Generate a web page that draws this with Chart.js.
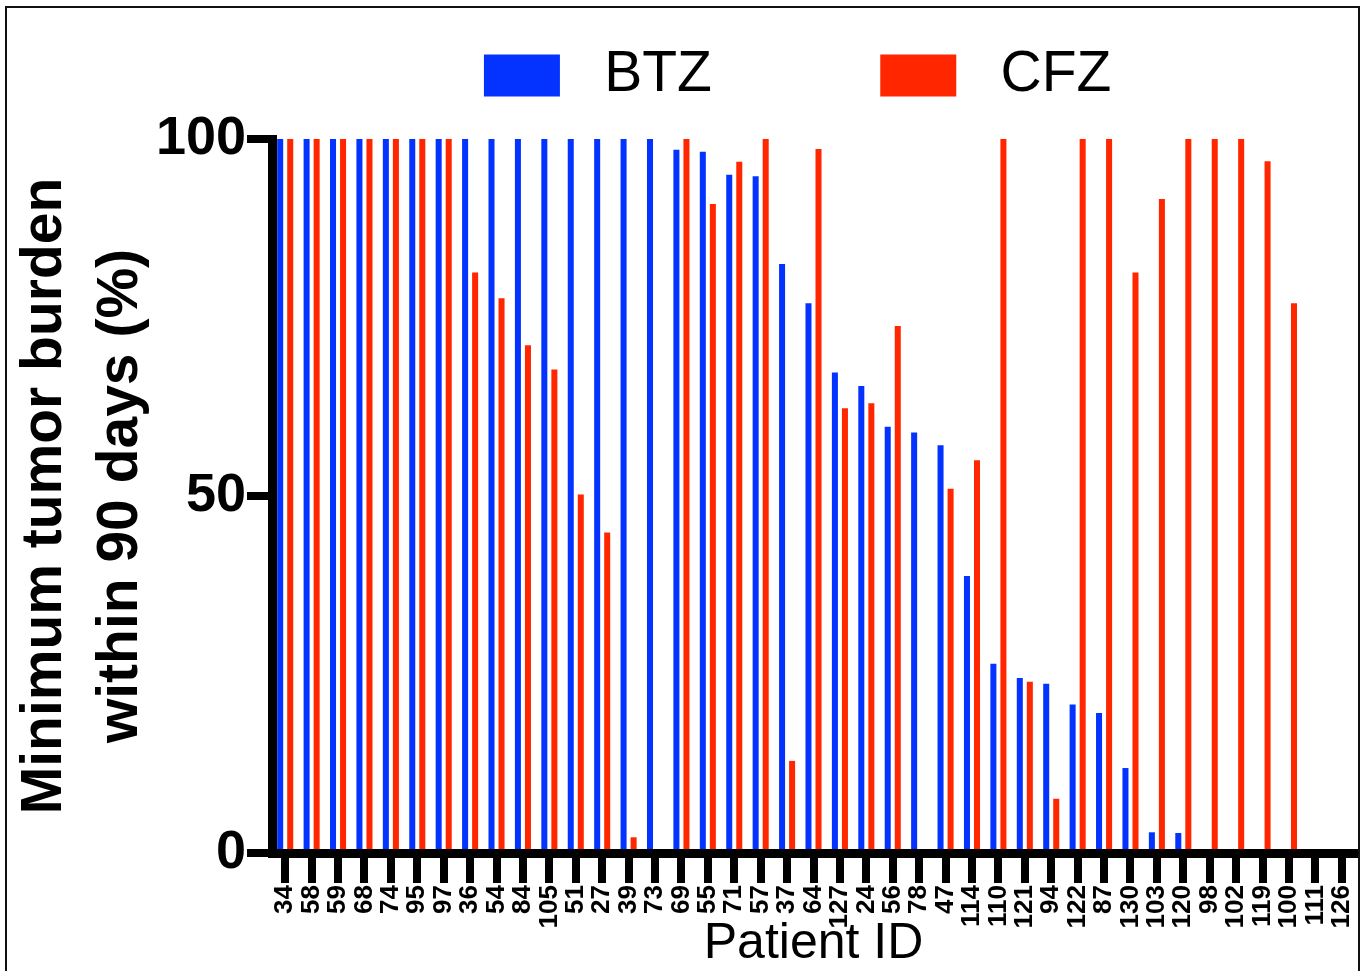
<!DOCTYPE html>
<html>
<head>
<meta charset="utf-8">
<title>Minimum tumor burden by patient</title>
<script src="https://cdn.jsdelivr.net/npm/chart.js@4.4.1/dist/chart.umd.min.js"></script>
<style>
    html, body {
        margin: 0;
        padding: 0;
        background: #fff;
        overflow: hidden;
    }
    #chartContainer {
        position: relative;
        width: 1367px;
        height: 971px;
    }
    #frame {
        position: absolute;
        left: 5px;
        top: 6px;
        width: 1355px;
        height: 1000px;
        box-sizing: border-box;
        border: 2px solid #111;
        pointer-events: none;
    }
</style>
</head>
<body>
<div id="chartContainer">
    <canvas id="burdenChart"></canvas>
    <div id="frame"></div>
</div>
<script>
const patientIds = ['34', '58', '59', '68', '74', '95', '97', '36', '54', '84', '105', '51', '27', '39', '73',
    '69', '55', '71', '57', '37', '64', '127', '24', '56', '78', '47', '114', '110', '121', '94', '122', '87',
    '130', '103', '120', '98', '102', '119', '100', '111', '126'];

// minimum tumor burden within 90 days, % (null = no bar)
const btzValues = [100, 100, 100, 100, 100, 100, 100, 100, 100, 100, 100, 100, 100, 100, 100,
    98.5, 98.2, 95, 94.8, 82.5, 77, 67.3, 65.4, 59.7, 58.9, 57.1, 38.8, 26.5, 24.5, 23.7, 20.8, 19.6,
    11.9, 2.9, 2.8, null, null, null, null, null, null];
const cfzValues = [100, 100, 100, 100, 100, 100, 100, 81.3, 77.7, 71.1, 67.7, 50.2, 44.9, 2.2, null,
    100, 90.9, 96.8, 100, 12.9, 98.6, 62.3, 63, 73.8, null, 51, 55, 100, 24, 7.6, 100, 100,
    81.3, 91.6, 100, 100, 100, 96.9, 77, null, null];

const yTicks = [0, 50, 100];

const blue = '#0433FF',
    red = '#FF2600',
    fontFamily = '"Liberation Sans", Arial, Helvetica, sans-serif';

Chart.defaults.font.family = fontFamily;
Chart.defaults.color = '#000';

// push the plot area down below the legend
const legendGap = {
    id: 'legendGap',
    afterInit(chart) {
        const fit = chart.legend.fit;
        chart.legend.fit = function () {
            fit.bind(chart.legend)();
            this.height += 25;
        };
    }
};

const ctx = document.getElementById('burdenChart').getContext('2d');

new Chart(ctx, {
    type: 'bar',
    data: {
        labels: patientIds,
        datasets: [{
            label: 'BTZ',
            data: btzValues,
            backgroundColor: blue,
            borderWidth: 0,
            categoryPercentage: 0.76,
            barPercentage: 0.6
        }, {
            label: 'CFZ',
            data: cfzValues,
            backgroundColor: red,
            borderWidth: 0,
            categoryPercentage: 0.76,
            barPercentage: 0.6
        }]
    },
    options: {
        responsive: true,
        maintainAspectRatio: false,
        animation: false,
        layout: {
            padding: { top: 37, right: 12, bottom: 0, left: 0 }
        },
        plugins: {
            tooltip: { enabled: false },
            legend: {
                position: 'top',
                fullSize: false,
                labels: {
                    boxWidth: 76,
                    boxHeight: 42,
                    padding: 10,
                    color: '#000',
                    font: { size: 57 },
                    generateLabels(chart) {
                        const items = Chart.defaults.plugins.legend.labels.generateLabels(chart);
                        items.forEach((item, i) => {
                            item.text = ' ' + item.text + (i === 0 ? ' '.repeat(10) : '  ');
                        });
                        return items;
                    }
                }
            }
        },
        scales: {
            x: {
                z: 1,
                offset: true,
                grid: {
                    offset: false,
                    drawOnChartArea: false,
                    tickLength: 30,
                    tickWidth: 8,
                    tickColor: '#000',
                    lineWidth: 8
                },
                border: { width: 9, color: '#000' },
                ticks: {
                    autoSkip: false,
                    minRotation: 90,
                    maxRotation: 90,
                    padding: 2,
                    color: '#000',
                    font: { size: 26, weight: 'bold' }
                },
                title: {
                    display: true,
                    text: 'Patient ID',
                    color: '#000',
                    padding: { top: 0, bottom: 2 },
                    font: { size: 50, lineHeight: 1 }
                },
                afterFit(scale) {
                    scale.height = 118;
                    scale.paddingLeft = 0;
                    scale.paddingRight = 0;
                }
            },
            y: {
                z: 1,
                min: 0,
                max: 100,
                afterBuildTicks(scale) {
                    scale.ticks = yTicks.map(v => ({ value: v }));
                },
                grid: {
                    drawOnChartArea: false,
                    tickLength: 25,
                    tickWidth: 8,
                    tickColor: '#000',
                    lineWidth: 8
                },
                border: { width: 9, color: '#000' },
                ticks: {
                    padding: 1,
                    color: '#000',
                    font: { size: 54, weight: 'bold' }
                },
                title: {
                    display: true,
                    text: ['Minimum tumor burden', 'within 90 days (%)'],
                    color: '#000',
                    padding: { top: 8, bottom: 0 },
                    font: { size: 57, weight: 'bold', lineHeight: 1.32 }
                },
                afterFit(scale) {
                    scale.width = 272;
                }
            }
        }
    },
    plugins: [legendGap]
});
</script>
</body>
</html>
